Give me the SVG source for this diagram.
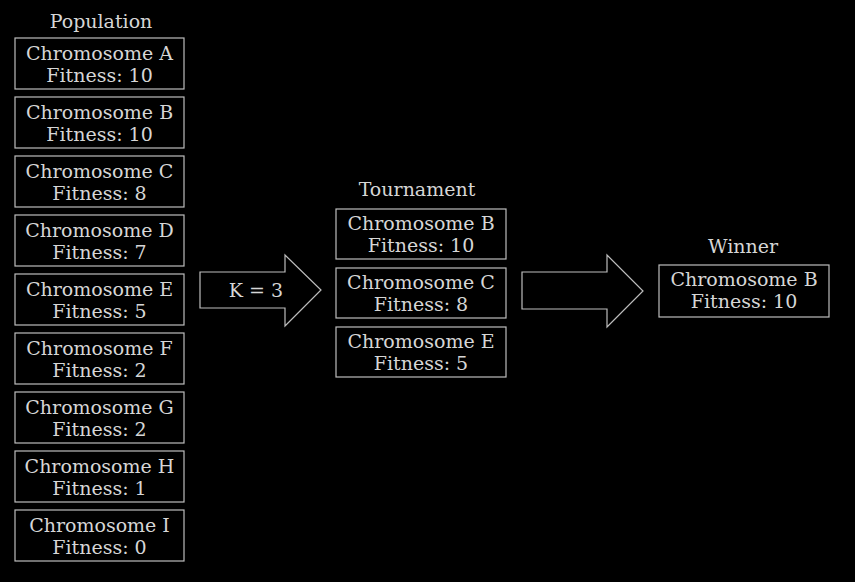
<svg xmlns="http://www.w3.org/2000/svg" width="855" height="582" viewBox="0 0 855 582">
<style>
text{font-family:"DejaVu Serif","Liberation Serif",serif;font-size:19px;fill:#d6d6d6;text-anchor:middle}
.box{fill:#000;stroke:#bdbdbd;stroke-width:1.2}
.arrow{fill:#000;stroke:#bdbdbd;stroke-width:1.2}
</style>
<rect width="855" height="582" fill="#000"/>
<text x="101" y="28">Population</text>
<text x="417" y="196">Tournament</text>
<text x="743" y="253">Winner</text>
<g id="pop-a"><rect class="box" x="15" y="38" width="169" height="51"/><text x="99.5" y="60">Chromosome A</text><text x="99.5" y="82">Fitness: 10</text></g>
<g id="pop-b"><rect class="box" x="15" y="97" width="169" height="51"/><text x="99.5" y="119">Chromosome B</text><text x="99.5" y="141">Fitness: 10</text></g>
<g id="pop-c"><rect class="box" x="15" y="156" width="169" height="51"/><text x="99.5" y="178">Chromosome C</text><text x="99.5" y="200">Fitness: 8</text></g>
<g id="pop-d"><rect class="box" x="15" y="215" width="169" height="51"/><text x="99.5" y="237">Chromosome D</text><text x="99.5" y="259">Fitness: 7</text></g>
<g id="pop-e"><rect class="box" x="15" y="274" width="169" height="51"/><text x="99.5" y="296">Chromosome E</text><text x="99.5" y="318">Fitness: 5</text></g>
<g id="pop-f"><rect class="box" x="15" y="333" width="169" height="51"/><text x="99.5" y="355">Chromosome F</text><text x="99.5" y="377">Fitness: 2</text></g>
<g id="pop-g"><rect class="box" x="15" y="392" width="169" height="51"/><text x="99.5" y="414">Chromosome G</text><text x="99.5" y="436">Fitness: 2</text></g>
<g id="pop-h"><rect class="box" x="15" y="451" width="169" height="51"/><text x="99.5" y="473">Chromosome H</text><text x="99.5" y="495">Fitness: 1</text></g>
<g id="pop-i"><rect class="box" x="15" y="510" width="169" height="51"/><text x="99.5" y="532">Chromosome I</text><text x="99.5" y="554">Fitness: 0</text></g>
<g id="tour-b"><rect class="box" x="336" y="209" width="170" height="50"/><text x="421" y="230">Chromosome B</text><text x="421" y="252">Fitness: 10</text></g>
<g id="tour-c"><rect class="box" x="336" y="268" width="170" height="50"/><text x="421" y="289">Chromosome C</text><text x="421" y="311">Fitness: 8</text></g>
<g id="tour-e"><rect class="box" x="336" y="327" width="170" height="50"/><text x="421" y="348">Chromosome E</text><text x="421" y="370">Fitness: 5</text></g>
<g id="winner"><rect class="box" x="659" y="265" width="170" height="52"/><text x="744" y="286">Chromosome B</text><text x="744" y="308">Fitness: 10</text></g>
<g id="connectors">
<g id="arrow-k"><polygon class="arrow" points="200,272 285,272 285,255 321,290 285,326 285,308 200,308"/><text x="256" y="297">K = 3</text></g>
<g id="arrow-win"><polygon class="arrow" points="522,272 607,272 607,255 643,291 607,327 607,309 522,309"/></g>
</g>
</svg>
